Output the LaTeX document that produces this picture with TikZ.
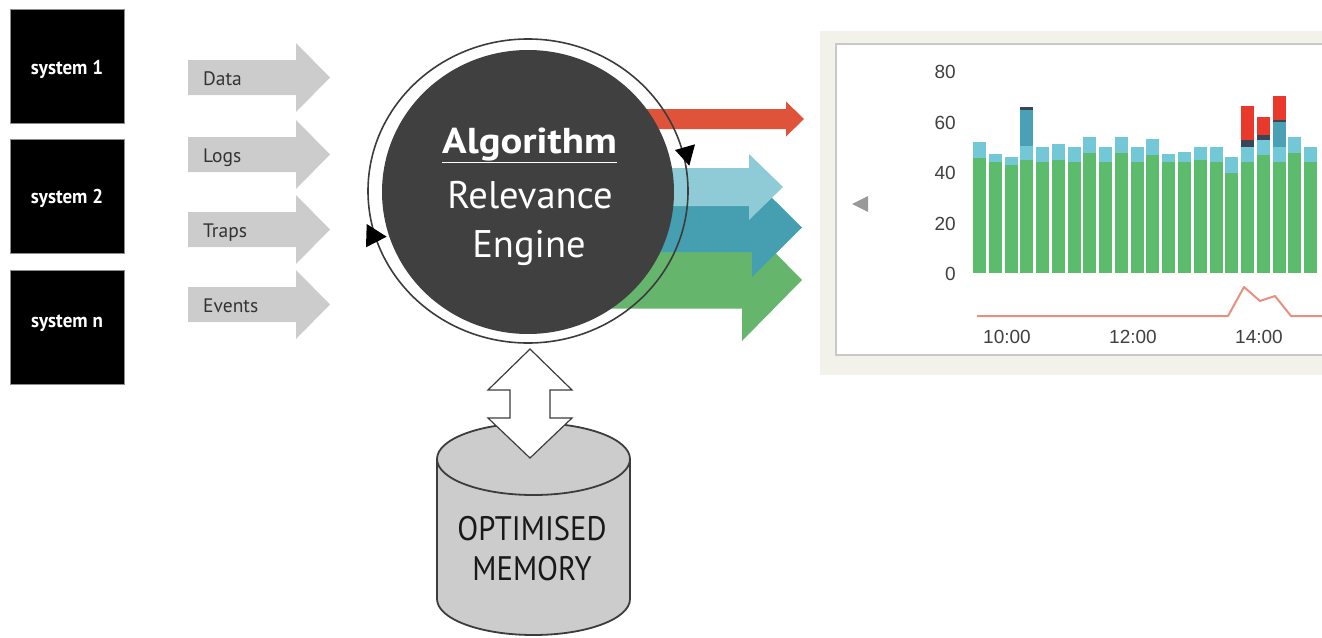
\documentclass[tikz,border=0pt]{standalone}
\usepackage{fontspec}
\setmainfont{PT Sans}
\newfontfamily\chartfont{Liberation Sans}
\usetikzlibrary{shapes.geometric}
\definecolor{arrgray}{HTML}{CCCCCC}
\definecolor{labcol}{HTML}{333333}
\definecolor{diskcol}{HTML}{404040}
\definecolor{ringcol}{HTML}{3C3C3C}
\definecolor{ored}{HTML}{DE5339}
\definecolor{olblue}{HTML}{8ECBD6}
\definecolor{oteal}{HTML}{459FB1}
\definecolor{ogreen}{HTML}{66B56D}
\definecolor{panelbg}{HTML}{F2F2EA}
\definecolor{panelline}{HTML}{C8C8C8}
\definecolor{bgreen}{HTML}{5DBB6D}
\definecolor{bcyan}{HTML}{72C8D6}
\definecolor{bteal}{HTML}{4AA0B4}
\definecolor{bdark}{HTML}{374757}
\definecolor{bred}{HTML}{E8392C}
\definecolor{lineRed}{HTML}{E8907F}
\definecolor{cyl}{HTML}{CCCCCC}
\newcommand{\blockarrow}[7]{%
  \fill[#1] (#2,{#5-#6}) -- (#3,{#5-#6}) -- (#3,{#5-#7}) -- (#4,#5) -- (#3,{#5+#7}) -- (#3,{#5+#6}) -- (#2,{#5+#6}) -- cycle;}
\newcommand{\chartseg}[4]{% index, color, bottom y, top y
  \fill[#2] ({973+(#1-1)*15.77},#3) rectangle ({986+(#1-1)*15.77},#4);}
\begin{document}
\begin{tikzpicture}[x=1pt,y=-1pt,
  sysbox/.style={fill=black, draw=black!45, line width=0.8pt, minimum width=114pt, minimum height=114pt, inner sep=0pt},
  systext/.style={text=white, font=\fontsize{20}{20}\selectfont\bfseries, anchor=base, inner sep=0pt},
  flowlabel/.style={text=labcol, font=\fontsize{19.5}{19.5}\selectfont, anchor=base west, inner sep=0pt},
  enginetext/.style={text=white, anchor=base, inner sep=0pt},
  axislabel/.style={text=black!75, font=\chartfont\fontsize{19}{19}\selectfont, inner sep=0pt},
  memtext/.style={text=black!90, font=\fontsize{34}{34}\selectfont, anchor=base, inner sep=0pt},
]
\useasboundingbox (0,0) rectangle (1322,637);
\clip (0,0) rectangle (1322,637);

% ---------- systems ----------
\node[sysbox] (sys1) at (67,66) {};
\node[sysbox] (sys2) at (67,196.5) {};
\node[sysbox] (sysn) at (67,327) {};
\node[systext] (sys1t) at (67,74) {\scalebox{0.95}[1]{system 1}};
\node[systext] (sys2t) at (67,203) {\scalebox{0.95}[1]{system 2}};
\node[systext] (sysnt) at (67,327) {\scalebox{0.95}[1]{system n}};

% ---------- input arrows ----------
\blockarrow{arrgray}{188}{296}{330}{77.5}{17.5}{34.5}
\blockarrow{arrgray}{188}{296}{330}{154.5}{17.5}{34.5}
\blockarrow{arrgray}{188}{296}{330}{229.5}{17.5}{34.5}
\blockarrow{arrgray}{188}{296}{330}{304.5}{17.5}{34.5}
\node[flowlabel] (ldata) at (203,85) {Data};
\node[flowlabel] (llogs) at (203,162) {Logs};
\node[flowlabel] (ltraps) at (203,237) {Traps};
\node[flowlabel] (levents) at (203,312) {Events};

% ---------- output arrows ----------
\blockarrow{ored}{600}{786}{804}{119}{10}{17.5}
\blockarrow{ogreen}{600}{742}{802}{280}{28.5}{61}
\blockarrow{oteal}{600}{752}{802}{227.5}{24.5}{49.5}
\blockarrow{olblue}{600}{749}{783}{187}{19}{33}

% ---------- engine ----------
\node[ellipse, fill=diskcol, minimum width=292pt, minimum height=284pt, inner sep=0pt] (engine) at (528,192) {};
\node[ellipse, draw=ringcol, line width=1.6pt, minimum width=320pt, minimum height=304pt, inner sep=0pt] (ring) at (528,191) {};
\fill[black] (366.7,224) -- (386.7,236.7) -- (366,247.3) -- cycle;
\fill[black] (675,150) -- (695,144.3) -- (689.3,165.7) -- cycle;
\node[enginetext, font=\fontsize{36}{36}\selectfont\bfseries] (alg) at (529.5,153) {\scalebox{1.13}[1]{\underline{Algorithm}}};
\node[enginetext, font=\fontsize{38.5}{38.5}\selectfont] (rel) at (530,208) {Relevance};
\node[enginetext, font=\fontsize{38.5}{38.5}\selectfont] (eng) at (529,257) {Engine};

% ---------- memory ----------
\fill[cyl] (437,459) -- (437,599) arc[start angle=180, end angle=360, x radius=96.5pt, y radius=36pt] -- (630,459) -- cycle;
\draw[ringcol, line width=1.8pt] (437,459) -- (437,599) arc[start angle=180, end angle=360, x radius=96.5pt, y radius=36pt] -- (630,459);
\draw[ringcol, line width=1.8pt, fill=cyl] (533.5,459) ellipse [x radius=96.5pt, y radius=36pt];
\node[memtext] (mem1) at (532,540) {\scalebox{0.9}[1]{OPTIMISED}};
\node[memtext] (mem2) at (532,580) {\scalebox{0.9}[1]{MEMORY}};
\coordinate (dtop) at (530,349);
\coordinate (dbot) at (530,458);
\draw[ringcol, line width=1.2pt, fill=white, line join=miter]
  (dtop) -- (572,390) -- (550,390) -- (550,418) -- (572,418) -- (dbot) -- (488,418) -- (510,418) -- (510,390) -- (488,390) -- cycle;

% ---------- chart panel ----------
\fill[panelbg] (820,31) rectangle (1340,375);
\draw[panelline, line width=1.6pt, fill=white] (836,44) rectangle (1340,355);
\fill[black!40] (852,204) -- (868,196) -- (868,212) -- cycle;
\node[axislabel, anchor=east] (y80) at (956,72) {80};
\node[axislabel, anchor=east] (y60) at (956,123) {60};
\node[axislabel, anchor=east] (y40) at (956,173) {40};
\node[axislabel, anchor=east] (y20) at (956,224) {20};
\node[axislabel, anchor=east] (y0) at (956,274) {0};
\node[axislabel] (x10) at (1007,337) {10:00};
\node[axislabel] (x12) at (1133,337) {12:00};
\node[axislabel] (x14) at (1259,337) {14:00};

% green + cyan
\foreach \i/\g/\c in {1/158.3/141.7, 2/161.7/154.3, 3/165/156.7, 4/160/145.7, 5/161.7/146.7,
  6/160/144, 7/161.7/146.7, 8/153.3/136.7, 9/161.7/146.7, 10/153.3/136.7, 11/161.7/146.7,
  12/155/139, 13/161.7/154.3, 14/161.7/151.7, 15/160/146.7, 16/161.7/146.7, 17/172.7/156.7,
  18/161.7/147.3, 19/155/140, 20/161.7/147.3, 21/153.3/136.7, 22/161.7/146.7}{
  \chartseg{\i}{bgreen}{273}{\g}
  \chartseg{\i}{bcyan}{\g}{\c}
}
% extra segments
\chartseg{4}{bteal}{145.7}{110}
\chartseg{4}{bdark}{110}{106.7}
\chartseg{18}{bdark}{147.3}{140}
\chartseg{18}{bred}{140}{106}
\chartseg{19}{bdark}{140}{135}
\chartseg{19}{bred}{135}{116.7}
\chartseg{20}{bteal}{147.3}{121.7}
\chartseg{20}{bdark}{121.7}{120}
\chartseg{20}{bred}{120}{96}

\draw[lineRed, line width=2pt, line join=round]
  (977,316) -- (1228,316) -- (1244,287) -- (1260,301) -- (1275,296) -- (1291,316) -- (1340,316);
\end{tikzpicture}
\end{document}
